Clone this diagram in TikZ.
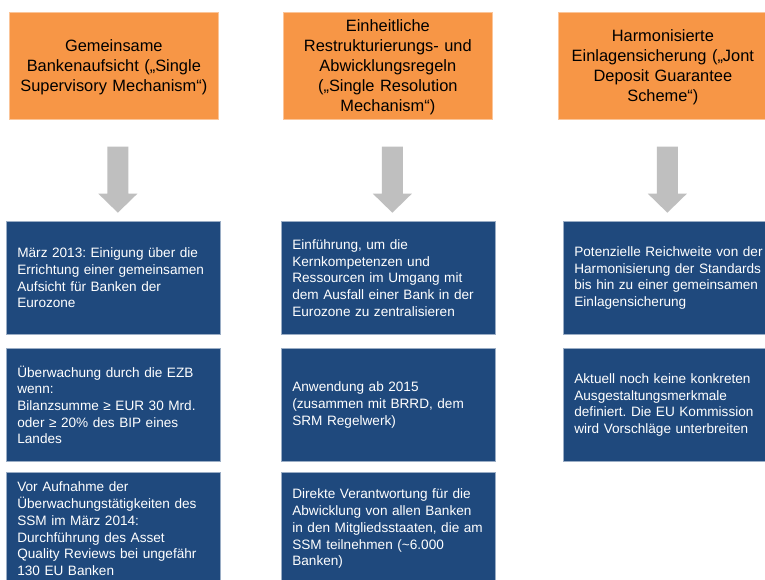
\documentclass[tikz,border=0pt]{standalone}
\usepackage{fontspec}
\setmainfont{Liberation Sans}
\usetikzlibrary{calc}
\definecolor{pillarorange}{HTML}{F79646}
\definecolor{factblue}{HTML}{1F497D}
\definecolor{arrowgrey}{HTML}{BFBFBF}
\frenchspacing
\tikzset{
  pillar/.style={anchor=north west, fill=pillarorange, draw=pillarorange!55!white,
    line width=0.7pt, text=black, align=center, text width=200pt, inner xsep=4.5pt,
    minimum height=107pt, font=\fontsize{16.4}{20}\selectfont},
  fact/.style={anchor=north west, fill=factblue, draw=factblue!45!white,
    line width=0.7pt, text=white, align=left, text width=192pt, inner xsep=11pt,
    minimum height=113pt, font=\fontsize{13.6}{16.7}\selectfont},
  blockarrow/.style={fill=arrowgrey, draw=none}
}
% downward block arrow starting at a named coordinate
\newcommand{\downarrowblock}[1]{%
  \fill[blockarrow] ($(#1)+(-10.5,0)$) -- ++(21,0) -- ++(0,47) -- ++(9,0)
    -- ++(-19.5,19) -- ++(-19.5,-19) -- ++(9,0) -- cycle;}
% first-line strut that nudges pillar text slightly downwards
\newcommand{\pillarstrut}{\rule{0pt}{15pt}}
\begin{document}
\begin{tikzpicture}[x=1pt, y=-1pt]
\clip (0,0) rectangle (765,579);
\fill[white] (0,0) rectangle (765,579);

% headline pillars
\node[pillar] (p1) at (9,12) {\pillarstrut Gemeinsame\\Bankenaufsicht („Single\\Supervisory Mechanism“)};
\node[pillar] (p2) at (283,12) {\pillarstrut Einheitliche\\Restrukturierungs- und\\Abwicklungsregeln\\(„Single Resolution\\Mechanism“)};
\node[pillar] (p3) at (558,12) {\pillarstrut Harmonisierte\\Einlagensicherung („Jont\\Deposit Guarantee\\Scheme“)};

% facts per pillar
\node[fact] (f11) at (6,221) {März 2013: Einigung über die\\Errichtung einer gemeinsamen\\Aufsicht für Banken der\\Eurozone};
\node[fact] (f12) at (6,348) {Überwachung durch die EZB\\wenn:\\Bilanzsumme ≥ EUR 30 Mrd.\\oder ≥ 20\% des BIP eines\\Landes};
\node[fact] (f13) at (6,472) {Vor Aufnahme der\\Überwachungstätigkeiten des\\SSM im März 2014:\\Durchführung des Asset\\Quality Reviews bei ungefähr\\130 EU Banken};

\node[fact] (f21) at (281,221) {Einführung, um die\\Kernkompetenzen und\\Ressourcen im Umgang mit\\dem Ausfall einer Bank in der\\Eurozone zu zentralisieren};
\node[fact] (f22) at (281,348) {Anwendung ab 2015\\(zusammen mit BRRD, dem\\SRM Regelwerk)};
\node[fact] (f23) at (281,472) {Direkte Verantwortung für die\\Abwicklung von allen Banken\\in den Mitgliedsstaaten, die am\\SSM teilnehmen (\textasciitilde 6.000\\Banken)};

\node[fact] (f31) at (563,221) {Potenzielle Reichweite von der\\Harmonisierung der Standards\\bis hin zu einer gemeinsamen\\Einlagensicherung};
\node[fact] (f32) at (563,348) {Aktuell noch keine konkreten\\Ausgestaltungsmerkmale\\definiert. Die EU Kommission\\wird Vorschläge unterbreiten};

% arrows from pillars down to their facts
\coordinate (a1) at ($(p1.south)+(4,27)$);
\coordinate (a2) at ($(p2.south)+(4.5,27)$);
\coordinate (a3) at ($(p3.south)+(4.5,27)$);
\downarrowblock{a1}
\downarrowblock{a2}
\downarrowblock{a3}
\end{tikzpicture}
\end{document}
